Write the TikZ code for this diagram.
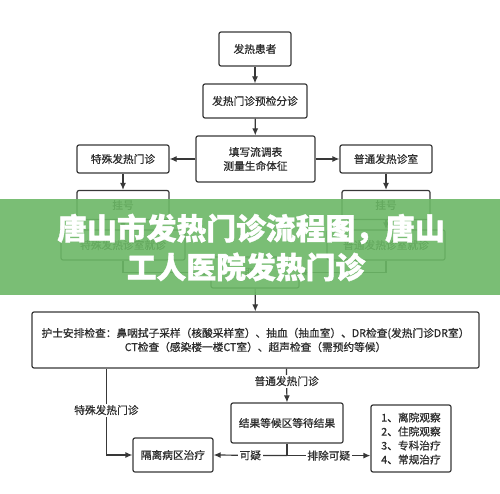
\documentclass[tikz,border=0pt]{standalone}
\usepackage{fontspec}
\setmainfont{Noto Sans CJK SC}
\newfontfamily\midfont[FakeBold=0.8]{Noto Sans CJK SC}
\newfontfamily\titlefont[BoldFeatures={FakeBold=1.2}]{Noto Sans CJK SC}
\usepackage{xcolor}
\usetikzlibrary{arrows.meta,positioning}
\definecolor{Ink}{HTML}{2E2E2E}
\definecolor{Edge}{HTML}{383838}
\definecolor{Banner}{HTML}{6CB866}
\tikzset{
  box/.style={draw=Edge,line width=1.2pt,rounded corners=2pt,text=Ink,font=\midfont\fontsize{10.7}{14}\selectfont,inner sep=0pt,align=center},
  arr/.style={-{Latex[length=7pt,width=6pt]},draw=Edge,line width=1.2pt},
  lbl/.style={fill=white,inner sep=1.5pt,text=Ink,font=\midfont\fontsize{10.7}{13}\selectfont},
  headline/.style={text=white,font=\titlefont\bfseries\fontsize{29.8}{38}\selectfont}
}
\begin{document}
\begin{tikzpicture}[x=1pt,y=-1pt]
\useasboundingbox (0,0) rectangle (500,494);
\fill[white](0,0)rectangle(500,494);
\node[box,minimum width=72,minimum height=34](patient)at(255,49){发热患者};
\node[box,minimum width=104,minimum height=34](triage)at(255,101){发热门诊预检分诊};
\node[box,minimum width=119,minimum height=46](form)at(255.5,159){填写流调表\\测量生命体征};
\node[box,minimum width=92,minimum height=28](special)at(123,159){特殊发热门诊};
\node[box,minimum width=92,minimum height=28](normal)at(386,159){普通发热诊室};
\node[box,minimum width=92,minimum height=29](regL)at(123,205){挂号};
\node[box,minimum width=88,minimum height=29](regR)at(386,205){挂号};
\node[box,minimum width=124,minimum height=30](seeL)at(123,245){特殊发热诊室就诊};
\node[box,minimum width=118,minimum height=30](seeR)at(386,245){普通发热诊室就诊};
\node[box,minimum width=88,minimum height=31](fetch)at(255,272.5){取号};
\node[box,minimum width=447,minimum height=56](nurse)at(255.5,340){护士安排检查：鼻咽拭子采样（核酸采样室）、抽血（抽血室）、DR检查(发热门诊DR室）\\CT检查（感染楼一楼CT室）、超声检查（需预约等候）};
\node[box,minimum width=112,minimum height=40](result)at(287,423){结果等候区等待结果};
\node[box,minimum width=80,minimum height=67,align=left](list)at(411,438.5){1、离院观察\\2、住院观察\\3、专科治疗\\4、常规治疗};
\node[box,minimum width=80,minimum height=34](iso)at(173,455){隔离病区治疗};
\draw[arr](patient)--(triage);
\draw[arr](triage)--(form);
\draw[arr](form)--(special);
\draw[arr](form)--(normal);
\draw[arr](special)--(regL);
\draw[arr](normal)--(regR);
\draw[arr](regL)--(seeL);
\draw[arr](regR)--(seeR);
\draw[arr](seeL.south)|-(fetch.west);
\draw[arr](seeR.south)|-(fetch.east);
\draw[arr](fetch)--(nurse);
\draw[arr]([xshift=75pt]nurse.south west)|-node[lbl,pos=.24]{特殊发热门诊}(iso.west);
\draw[arr]([xshift=255pt]nurse.south west)--node[lbl,pos=.37]{普通发热门诊}(result.north);
\draw[draw=Edge,line width=1.2pt](result.south)--++(0,12)coordinate(split);
\draw[arr](split)--node[lbl]{可疑}(iso.east);
\draw[arr](split)--node[lbl]{排除可疑}(split-|list.west);
\fill[Banner,opacity=.9](0,199)rectangle(500,295);
\node[headline](titleA)at(251,229){唐山市发热门诊流程图，唐山};
\node[headline](titleB)at(246,267){工人医院发热门诊};
\end{tikzpicture}
\end{document}
